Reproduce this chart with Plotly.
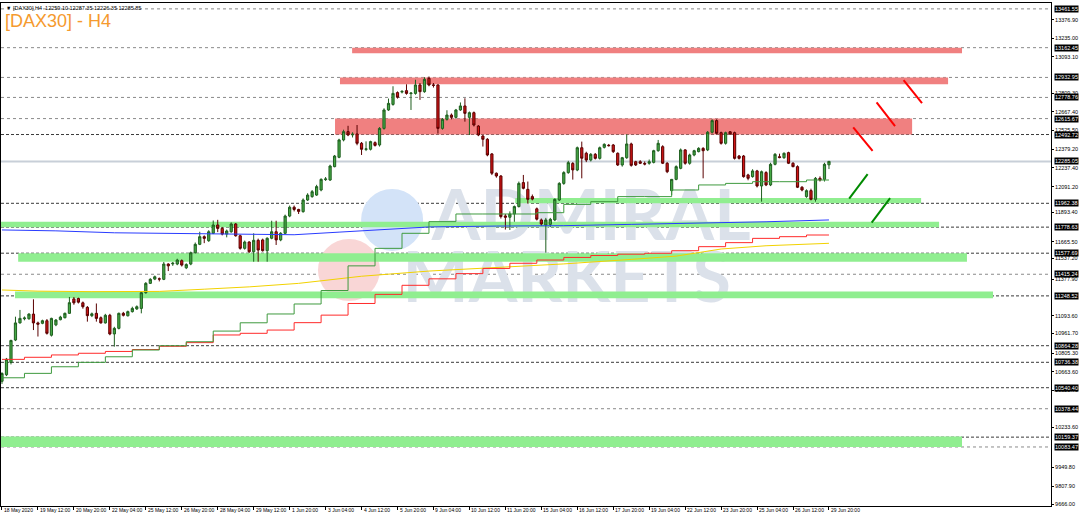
import plotly.graph_objects as go

# ---------------- DATA ----------------
bar_open = [10590,10640,10735,10908,11040,11072,11072,11108,11040,11037,
            11057,10945,11025,11065,11080,11114,11225,11228,11195,11160,
            11096,11114,11080,11040,11099,10955,10998,11114,11095,11127,
            11148,11152,11273,11345,11378,11380,11376,11494,11495,11494,
            11520,11465,11494,11581,11646,11705,11674,11731,11795,11769,
            11725,11743,11803,11712,11615,11664,11589,11677,11680,11597,
            11693,11743,11680,11731,11864,11932,11915,11898,11988,12014,
            12026,12065,12145,12142,12245,12317,12451,12515,12490,12497,
            12425,12378,12379,12430,12412,12540,12682,12725,12816,12820,
            12831,12808,12810,12875,12823,12926,12875,12875,12540,12610,
            12643,12625,12682,12713,12625,12661,12558,12481,12456,12343,
            12194,12173,11865,11855,11880,11937,12122,12070,12014,11920,
            11834,11795,11800,11834,11988,12116,12199,12270,12219,12391,
            12348,12296,12340,12309,12394,12410,12412,12348,12258,12314,
            12420,12283,12283,12270,12271,12278,12368,12399,12271,12060,
            12147,12232,12374,12271,12335,12361,12386,12374,12510,12600,
            12507,12425,12514,12507,12327,12327,12181,12168,12212,12096,
            12199,12104,12263,12322,12314,12353,12271,12245,12086,12014,
            12060,11993,12155,12147,12259.10]
bar_high = [10660,10770,10910,11088,11140,11090,11115,11222,11050,11065,
            11070,11080,11070,11095,11120,11240,11240,11235,11205,11170,
            11120,11190,11090,11110,11110,11010,11120,11125,11135,11165,
            11175,11285,11355,11385,11405,11390,11510,11500,11510,11535,
            11530,11500,11590,11660,11743,11715,11755,11830,11835,11780,
            11760,11815,11810,11720,11675,11670,11731,11690,11690,11700,
            11828,11828,11740,11875,11945,11945,11920,12000,12040,12065,
            12105,12155,12165,12260,12335,12460,12530,12560,12510,12566,
            12435,12440,12445,12440,12550,12695,12770,12865,12825,12835,
            12880,12820,12915,12890,12935,12940,12890,12880,12620,12680,
            12655,12690,12740,12772,12670,12670,12565,12490,12465,12350,
            12200,12180,11880,11900,11945,12130,12181,12130,12030,11930,
            11845,11850,11850,12000,12125,12210,12290,12280,12400,12438,
            12360,12350,12350,12400,12425,12420,12420,12355,12320,12494,
            12430,12290,12295,12285,12300,12375,12451,12410,12280,12150,
            12255,12385,12380,12345,12375,12395,12395,12520,12610,12610,
            12515,12515,12520,12515,12335,12335,12190,12225,12220,12215,
            12210,12275,12350,12345,12355,12360,12280,12255,12095,12070,
            12075,12165,12170,12275,12287.35]
bar_low = [10570,10630,10720,10900,11035,11060,11065,10985,10935,11030,
           10950,10935,11015,11060,11075,11110,11180,11190,11150,11050,
           11085,11050,11035,11035,10945,10857,10990,11090,11090,11120,
           11140,11114,11265,11340,11370,11360,11370,11440,11480,11485,
           11475,11455,11485,11575,11640,11655,11665,11725,11740,11715,
           11700,11735,11705,11605,11605,11580,11512,11512,11590,11512,
           11685,11641,11670,11725,11855,11900,11880,11890,11980,12005,
           12020,12055,12135,12135,12240,12310,12440,12480,12470,12410,
           12335,12365,12370,12400,12400,12530,12675,12715,12770,12810,
           12800,12682,12800,12760,12815,12865,12855,12500,12530,12600,
           12610,12615,12675,12592,12489,12555,12480,12400,12325,12180,
           12160,11845,11760,11757,11820,11930,12070,11960,11985,11830,
           11790,11582,11780,11825,11980,12105,12190,12145,12210,12155,
           12280,12285,12300,12300,12385,12400,12350,12250,12245,12305,
           12245,12250,12265,12255,12260,12270,12360,12265,12195,12026,
           12140,12225,12260,12260,12325,12355,12155,12365,12500,12495,
           12415,12415,12490,12300,12300,12160,12140,12160,12085,11975,
           12095,12095,12255,12310,12305,12265,12240,12080,12055,12005,
           11985,11975,12130,12130,12226.35]
bar_close = [10650,10760,10905,11040,11075,11078,11108,11040,11030,11057,
             10960,11075,11062,11085,11114,11196,11195,11200,11165,11096,
             11110,11075,11040,11099,10955,10998,11114,11099,11127,11152,
             11165,11273,11345,11376,11396,11378,11494,11480,11500,11525,
             11486,11490,11581,11646,11705,11692,11743,11795,11769,11725,
             11749,11803,11712,11615,11664,11589,11677,11602,11597,11693,
             11743,11680,11731,11864,11932,11915,11900,11988,12026,12052,
             12091,12147,12150,12250,12327,12451,12515,12489,12495,12425,
             12379,12382,12438,12409,12540,12682,12733,12810,12780,12825,
             12810,12812,12875,12823,12918,12875,12872,12540,12610,12643,
             12625,12682,12713,12656,12661,12566,12489,12456,12335,12194,
             12173,11860,11855,11880,11937,12116,12078,11993,11995,11840,
             11803,11834,11839,11993,12116,12199,12276,12220,12391,12310,
             12296,12340,12309,12391,12417,12407,12361,12258,12314,12420,
             12255,12258,12271,12265,12283,12368,12425,12271,12206,12147,
             12245,12374,12271,12335,12368,12386,12368,12510,12600,12502,
             12425,12507,12497,12309,12309,12168,12155,12212,12096,12206,
             12104,12263,12340,12315,12348,12271,12245,12086,12065,12060,
             11993,12155,12142,12263,12285.85]

x_tick_idx = list(range(0, 185, 8))
x_tick_text = ["18 May 2020", "19 May 12:00", "20 May 20:00", "22 May 04:00",
               "25 May 12:00", "26 May 20:00", "28 May 04:00", "29 May 12:00",
               "1 Jun 20:00", "3 Jun 04:00", "4 Jun 12:00", "5 Jun 20:00",
               "9 Jun 04:00", "10 Jun 12:00", "11 Jun 20:00", "15 Jun 04:00",
               "16 Jun 12:00", "17 Jun 20:00", "19 Jun 04:00", "22 Jun 12:00",
               "23 Jun 20:00", "25 Jun 04:00", "26 Jun 12:00", "29 Jun 20:00"]

y_tick_pos = [13376.90, 13235.00, 13093.10, 12809.30, 12667.40, 12525.50,
              12379.20, 12237.40, 12091.20, 11893.40, 11665.50, 11537.20,
              11377.90, 11093.60, 10961.70, 10805.30, 10663.60, 10521.70,
              10233.60, 9929.0, 9782.0, 9640.0]
y_tick_text = ["13376.90", "13235.00", "13093.10", "12809.30", "12667.40", "12525.50",
               "12379.20", "12237.40", "12091.20", "11893.40", "11665.50", "11537.20",
               "11377.90", "11093.60", "10961.70", "10805.30", "10663.60", "10521.70",
               "10233.60", "9949.80", "9807.90", "9666.00"]

# daily step indicators (bar index where step starts, level)
green_step_idx = [0, 5, 11, 17, 23, 29, 35, 41, 47, 53, 59, 65, 71, 77, 83, 89, 95, 101,
                  107, 113, 119, 125, 131, 137, 143, 149, 155, 161, 167, 173, 179, 184]
green_step_val = [10617, 10651, 10702, 10736, 10779, 10831, 10864, 10895, 10977, 11041,
                  11109, 11186, 11290, 11480, 11615, 11731, 11821, 11880, 11880, 11880,
                  11890, 11954, 11975, 12014, 12014, 12065, 12104, 12116, 12129, 12129,
                  12142, 12142]
red_step_idx = green_step_idx
red_step_val = [10759, 10775, 10793, 10806, 10820, 10835, 10860, 10888, 10947, 10960,
                10985, 11042, 11100, 11190, 11260, 11330, 11380, 11420, 11460, 11500,
                11525, 11545, 11560, 11570, 11577, 11597, 11628, 11659, 11692, 11705,
                11718, 11718]
blue_idx = [0, 12, 25, 40, 55, 65, 75, 85, 95, 110, 125, 140, 155, 170, 184]
blue_val = [11757, 11750, 11735, 11728, 11722, 11720, 11740, 11760, 11780, 11787,
            11790, 11800, 11808, 11820, 11834]
yellow_idx = [0, 8, 20, 35, 45, 55, 66, 80, 95, 110, 125, 140, 150, 160, 170, 184]
yellow_val = [11294, 11285, 11281, 11283, 11300, 11318, 11345, 11400, 11440, 11465,
              11495, 11530, 11555, 11610, 11635, 11654]

# drawn zones: (start index, end index, low, high)
red_zone_x0 = [77.9, 75.2, 74.1]
red_zone_x1 = [213.6, 210.5, 202.5]
red_zone_lo = [13119, 12880, 12493]
red_zone_hi = [13162.45, 12932.95, 12615.67]
green_zone_x0 = [114.2, -0.4, 3.6, 2.9, -0.4]
green_zone_x1 = [204.5, 208.5, 214.7, 220.5, 213.6]
green_zone_lo = [11962.38, 11778.63, 11512, 11230, 10083.47]
green_zone_hi = [12003, 11820, 11578, 11282, 10165]

# hand-drawn arrows (start idx, start price, end idx, end price)
red_arrow_x0 = [189.4, 194.6, 200.6]
red_arrow_y0 = [12548, 12741, 12913]
red_arrow_x1 = [193.7, 198.7, 204.7]
red_arrow_y1 = [12366, 12558, 12734]
green_arrow_x0 = [188.5, 193.5]
green_arrow_y0 = [11998, 11813]
green_arrow_x1 = [192.6, 197.6]
green_arrow_y1 = [12188, 12003]

levels_dark = [12492.72, 11962.38, 11778.63, 11577.69, 11248.52, 10864.28,
               10736.38, 10540.40, 10159.37]
levels_grey = [13461.55, 13162.45, 12932.95, 12778.76, 12615.67, 11415.24,
               10378.44, 10083.47]
current_price = 12285.05

header_text = "\u25BC [DAX30],H4  12259.10 12287.35 12226.35 12285.85"
title_text = "[DAX30] - H4"

# ---------------- FIGURE ----------------
idx = list(range(len(bar_open)))
fig = go.Figure()

fig.add_trace(go.Candlestick(
    x=idx, open=bar_open, high=bar_high, low=bar_low, close=bar_close,
    increasing=dict(fillcolor="#45a845", line=dict(color="#1f5f1f", width=1)),
    decreasing=dict(fillcolor="#d01414", line=dict(color="#5a0000", width=1)),
    whiskerwidth=0, hoverinfo="skip", showlegend=False))

fig.add_trace(go.Scatter(x=yellow_idx, y=yellow_val, mode="lines",
                         line=dict(color="#f2d200", width=1), hoverinfo="skip"))
fig.add_trace(go.Scatter(x=blue_idx, y=blue_val, mode="lines",
                         line=dict(color="#2a3cff", width=1), hoverinfo="skip"))
fig.add_trace(go.Scatter(x=red_step_idx, y=red_step_val, mode="lines",
                         line=dict(color="#ff2a2a", width=1, shape="hv"), hoverinfo="skip"))
fig.add_trace(go.Scatter(x=green_step_idx, y=green_step_val, mode="lines",
                         line=dict(color="#3f9a3f", width=1, shape="hv"), hoverinfo="skip"))

for x0, y0, x1, y1 in zip(red_arrow_x0, red_arrow_y0, red_arrow_x1, red_arrow_y1):
    fig.add_trace(go.Scatter(x=[x0, x1], y=[y0, y1], mode="lines",
                             line=dict(color="#ff0000", width=2), hoverinfo="skip"))
for x0, y0, x1, y1 in zip(green_arrow_x0, green_arrow_y0, green_arrow_x1, green_arrow_y1):
    fig.add_trace(go.Scatter(x=[x0, x1], y=[y0, y1], mode="lines",
                             line=dict(color="#008a00", width=2), hoverinfo="skip"))

shapes = []
# watermark
shapes.append(dict(type="circle", layer="below", xref="x", yref="y",
                   xsizemode="pixel", ysizemode="pixel", xanchor=86.8, yanchor=11834,
                   x0=-31, x1=31, y0=-31, y1=31, fillcolor="#d3e3f8", line=dict(width=0)))
shapes.append(dict(type="circle", layer="below", xref="x", yref="y",
                   xsizemode="pixel", ysizemode="pixel", xanchor=77.2, yanchor=11448,
                   x0=-31, x1=31, y0=-31, y1=31, fillcolor="#f9d6d6", line=dict(width=0)))
shapes.append(dict(type="rect", layer="below", xref="x", yref="y",
                   x0=97.5, x1=164.7, y0=11680, y1=12110,
                   fillcolor="rgba(0,0,0,0)", line=dict(width=0),
                   label=dict(text="ADMIRAL", textposition="middle center",
                              font=dict(size=70, color="#dbe1ea", family="Lato", weight=700))))
shapes.append(dict(type="rect", layer="below", xref="x", yref="y",
                   x0=86.6, x1=164.7, y0=11200, y1=11630,
                   fillcolor="rgba(0,0,0,0)", line=dict(width=0),
                   label=dict(text="MARKETS", textposition="middle center",
                              font=dict(size=70, color="#dbe1ea", family="Lato", weight=700))))
# zones
for x0, x1, lo, hi in zip(red_zone_x0, red_zone_x1, red_zone_lo, red_zone_hi):
    shapes.append(dict(type="rect", layer="below", xref="x", yref="y",
                       x0=x0, x1=x1, y0=lo, y1=hi, fillcolor="#f08080", line=dict(width=0)))
for x0, x1, lo, hi in zip(green_zone_x0, green_zone_x1, green_zone_lo, green_zone_hi):
    shapes.append(dict(type="rect", layer="below", xref="x", yref="y",
                       x0=x0, x1=x1, y0=lo, y1=hi, fillcolor="#90ee90", line=dict(width=0)))
# level lines
for lv in levels_grey:
    shapes.append(dict(type="line", layer="below", xref="paper", yref="y",
                       x0=0, x1=1, y0=lv, y1=lv, line=dict(color="#8a8a8a", width=1, dash="dot")))
for lv in levels_dark:
    shapes.append(dict(type="line", layer="below", xref="paper", yref="y",
                       x0=0, x1=1, y0=lv, y1=lv, line=dict(color="#3a3a3a", width=1, dash="3px,2px")))
shapes.append(dict(type="line", layer="below", xref="paper", yref="y",
                   x0=0, x1=1, y0=current_price, y1=current_price,
                   line=dict(color="#c8cfd8", width=2)))

annotations = []
for lv in sorted(levels_grey + levels_dark + [current_price], reverse=True):
    annotations.append(dict(xref="paper", yref="y", x=1, y=lv, xanchor="left", yanchor="middle",
                            xshift=3, text="%.2f" % lv, showarrow=False, bgcolor="#000000",
                            borderpad=0, font=dict(color="#ffffff", size=5.5, family="Liberation Sans")))
# time-axis labels, left-aligned at their tick like the terminal draws them
for ti, tt in zip(x_tick_idx, x_tick_text):
    annotations.append(dict(xref="x", yref="paper", x=ti, y=0, xanchor="left", yanchor="top",
                            xshift=1, yshift=0, text=tt, showarrow=False, borderpad=0,
                            font=dict(color="#000000", size=5, family="Liberation Sans")))
annotations.append(dict(xref="paper", yref="paper", x=0, y=1, xanchor="left", yanchor="top",
                        xshift=3, yshift=0, text=header_text, showarrow=False,
                        font=dict(color="#000000", size=5.5, family="Liberation Sans")))
annotations.append(dict(xref="paper", yref="paper", x=0, y=1, xanchor="left", yanchor="top",
                        xshift=2, yshift=-6, text=title_text, showarrow=False,
                        font=dict(color="#f59a2e", size=18, family="Liberation Sans")))

fig.update_layout(
    width=1080, height=516,
    margin=dict(l=1, r=29, t=3, b=10, autoexpand=False),
    paper_bgcolor="#ffffff", plot_bgcolor="#ffffff",
    showlegend=False, boxgap=0.3,
    shapes=shapes, annotations=annotations,
    xaxis=dict(range=[-0.22, 233.4], tickmode="array", tickvals=x_tick_idx,
               showticklabels=False, ticks="outside", ticklen=3, tickcolor="#000000",
               showline=True, linecolor="#000000", linewidth=1, mirror=True,
               showgrid=False, zeroline=False, rangeslider=dict(visible=False),
               automargin=False),
    yaxis=dict(range=[9628.3, 13506.9], side="right", tickmode="array",
               tickvals=y_tick_pos, ticktext=y_tick_text,
               ticks="outside", ticklen=2, tickcolor="#000000",
               tickfont=dict(size=5.5, color="#000000", family="Liberation Sans"),
               showline=True, linecolor="#000000", linewidth=1, mirror=True,
               showgrid=False, zeroline=False, ticklabeloverflow="allow", automargin=False),
)

fig.write_html("out.html", config={"displayModeBar": False, "staticPlot": True},
               post_script="document.body.style.margin='0px';document.body.style.overflow='hidden';")
